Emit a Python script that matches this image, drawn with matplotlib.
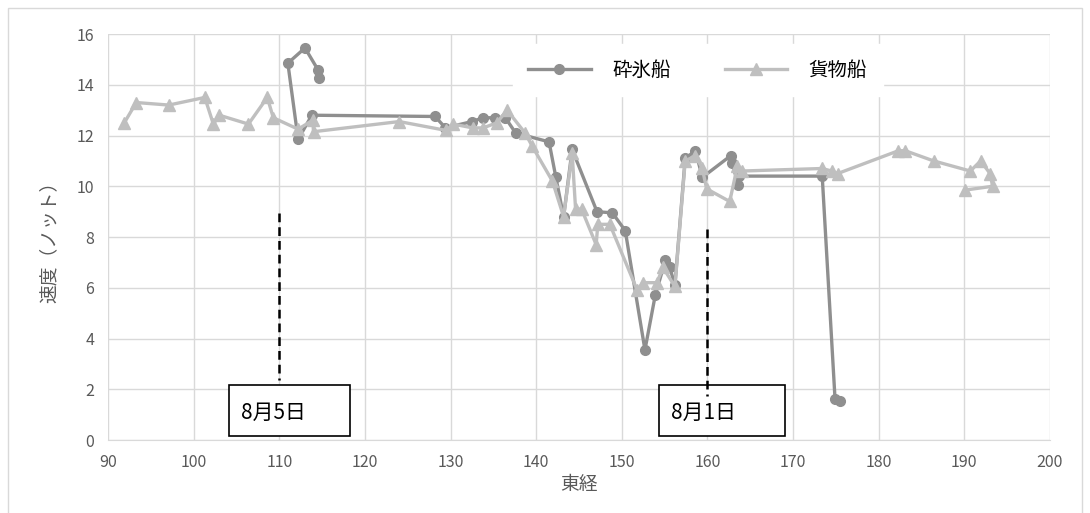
import matplotlib
matplotlib.use("Agg")
import matplotlib.pyplot as plt
from matplotlib.patches import Rectangle

plt.rcParams['font.family'] = ['Noto Sans CJK JP', 'DejaVu Sans']

# 砕氷船 (icebreaker)
ice_lon = [114.6, 114.5, 113.0, 111.0, 112.2, 113.8, 128.2, 129.4, 132.5, 133.8,
           135.2, 136.4, 137.6, 141.5, 142.3, 143.2, 144.2, 147.1, 148.9, 150.4,
           152.7, 153.9, 155.1, 155.6, 156.2, 157.4, 158.6, 159.4, 162.7, 162.9,
           163.6, 163.7, 173.4, 174.9, 175.5]
ice_speed = [14.25, 14.6, 15.45, 14.85, 11.85, 12.8, 12.75, 12.3, 12.55, 12.7,
             12.7, 12.7, 12.1, 11.75, 10.35, 8.8, 11.45, 9.0, 8.95, 8.25,
             3.55, 5.7, 7.1, 6.8, 6.1, 11.1, 11.4, 10.35, 11.2, 10.9,
             10.05, 10.4, 10.4, 1.6, 1.55]

# 貨物船 (cargo ship)
cargo_lon = [91.9, 93.3, 97.1, 101.3, 102.3, 103.0, 106.4, 108.6, 109.3, 112.2,
             113.9, 114.0, 124.0, 129.5, 130.3, 132.6, 133.8, 135.4, 136.6, 138.7,
             139.5, 141.9, 143.2, 144.2, 144.6, 145.3, 147.0, 147.2, 148.6, 151.8,
             152.5, 154.1, 154.8, 156.2, 157.4, 158.6, 159.4, 159.9, 162.6, 163.5,
             164.0, 173.4, 174.5, 175.2, 182.3, 183.1, 186.4, 190.7, 191.9, 193.0,
             193.3, 190.1]
cargo_speed = [12.5, 13.3, 13.2, 13.5, 12.45, 12.8, 12.45, 13.5, 12.7, 12.25,
               12.6, 12.15, 12.55, 12.2, 12.45, 12.3, 12.3, 12.5, 13.0, 12.1,
               11.6, 10.2, 8.8, 11.3, 9.1, 9.1, 7.7, 8.5, 8.5, 5.9,
               6.2, 6.2, 6.8, 6.05, 11.0, 11.2, 10.7, 9.9, 9.4, 10.8,
               10.6, 10.7, 10.6, 10.5, 11.4, 11.4, 11.0, 10.6, 11.0, 10.5,
               10.0, 9.85]

date_lon = [110, 160]
date_top = [8.95, 8.3]
date_bottom = [2.35, 1.75]
date_text = ["8月5日", "8月1日"]
box_left = [104.1, 154.3]
box_right = [118.3, 169.1]


def draw_date(ax, i):
  ax.plot([date_lon[i], date_lon[i]], [date_top[i], date_bottom[i]], color="black",
          linestyle=(0, (3.5, 2)), linewidth=1.8, zorder=7)
  ax.add_patch(Rectangle((box_left[i], 0.15), box_right[i] - box_left[i], 2.0,
                         fc="white", ec="black", lw=1.2, zorder=6))
  ax.text(box_left[i] + 1.4, 1.05, date_text[i], ha="left", va="center",
          fontsize=15, zorder=8)


fig = plt.figure(figsize=(10.9, 5.13), dpi=100)
ax = fig.add_axes([0.0991, 0.1423, 0.8642, 0.7914])

# outer chart border
fig.patches.append(Rectangle((8 / 1090, -0.1), 1074 / 1090, 1.1 - 8 / 513,
                             transform=fig.transFigure, fill=False,
                             edgecolor="#d9d9d9", linewidth=1.0))

ax.plot(ice_lon, ice_speed, color="#8f8f8f", linewidth=2.4, marker="o",
        markersize=7, label="砕氷船", zorder=3)
ax.plot(cargo_lon, cargo_speed, color="#bfbfbf", linewidth=2.4, marker="^",
        markersize=8, label="貨物船", zorder=4)

draw_date(ax, 0)
draw_date(ax, 1)

ax.set_xlim(90, 200)
ax.set_ylim(0, 16)
ax.set_xticks(range(90, 201, 10))
ax.set_yticks(range(0, 17, 2))
ax.grid(True, color="#d9d9d9", linewidth=1)
ax.set_axisbelow(True)
for s in ["top", "right", "left"]:
  ax.spines[s].set_visible(False)
ax.spines["bottom"].set_color("#d9d9d9")
ax.tick_params(length=0, labelsize=11.5, colors="#595959", pad=10)
ax.set_xlabel("東経", fontsize=13.5, color="#595959", labelpad=2)
ax.set_ylabel("速度（ノット）", fontsize=13.5, color="#595959", labelpad=12)

leg = ax.legend(loc="center", bbox_to_anchor=(0.626, 0.911), ncol=2,
                frameon=True, fancybox=False, edgecolor="white", framealpha=1,
                fontsize=14, handlelength=3.2, handletextpad=1.1,
                columnspacing=2.8, borderpad=0.8)

plt.savefig("out.png", dpi=100)
